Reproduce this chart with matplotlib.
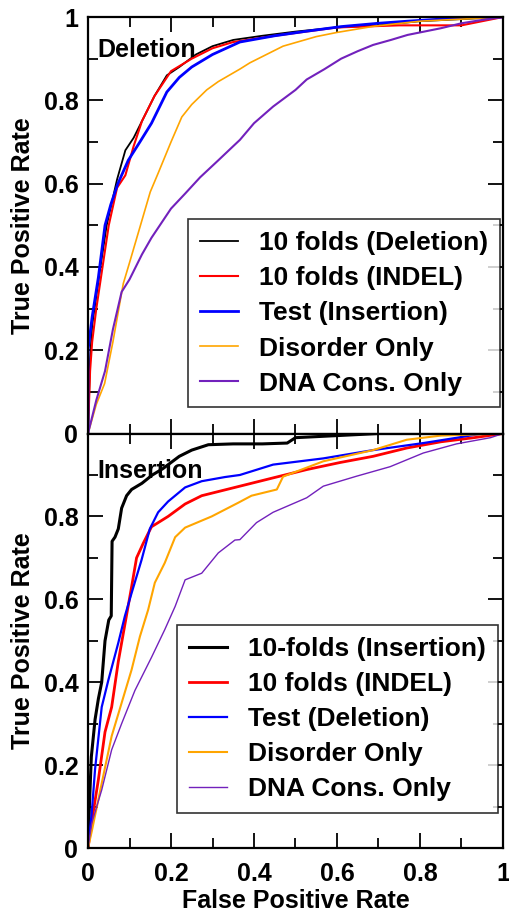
import numpy as np
import matplotlib.pyplot as plt
from matplotlib.ticker import MultipleLocator

plt.rcParams['font.family'] = ['Liberation Sans', 'DejaVu Sans']
plt.rcParams['font.weight'] = 'bold'

# ROC curves, deletion predictor (upper panel)
del_10f_x = [0, 0.005, 0.01, 0.02, 0.03, 0.045, 0.07, 0.09, 0.11, 0.13, 0.16, 0.19, 0.22, 0.26, 0.3, 0.35, 0.42, 0.5, 0.6, 0.7, 0.8, 0.9, 1.0]
del_10f_y = [0, 0.18, 0.26, 0.33, 0.40, 0.50, 0.61, 0.68, 0.71, 0.75, 0.81, 0.86, 0.88, 0.91, 0.93, 0.945, 0.955, 0.965, 0.975, 0.98, 0.99, 0.995, 1.0]
del_indel_x = [0, 0.005, 0.01, 0.02, 0.035, 0.05, 0.07, 0.09, 0.11, 0.13, 0.16, 0.2, 0.25, 0.3, 0.35, 0.45, 0.6, 0.75, 0.9, 1.0]
del_indel_y = [0, 0.15, 0.22, 0.30, 0.40, 0.50, 0.59, 0.62, 0.69, 0.75, 0.81, 0.87, 0.90, 0.925, 0.94, 0.955, 0.975, 0.98, 0.98, 1.0]
del_test_x = [0, 0, 0.01, 0.025, 0.041, 0.055, 0.072, 0.097, 0.125, 0.153, 0.19, 0.22, 0.25, 0.3, 0.366, 0.45, 0.52, 0.61, 0.7, 0.77, 0.85, 0.92, 1.0]
del_test_y = [0, 0.20, 0.28, 0.375, 0.50, 0.55, 0.60, 0.656, 0.70, 0.745, 0.82, 0.855, 0.88, 0.91, 0.94, 0.955, 0.965, 0.977, 0.985, 0.99, 0.995, 1.0, 1.0]
del_dis_x = [0, 0.02, 0.04, 0.06, 0.085, 0.1, 0.125, 0.15, 0.169, 0.2, 0.226, 0.25, 0.286, 0.314, 0.366, 0.39, 0.47, 0.55, 0.6, 0.69, 0.8, 0.9, 1.0]
del_dis_y = [0, 0.07, 0.12, 0.22, 0.36, 0.41, 0.495, 0.58, 0.625, 0.70, 0.76, 0.79, 0.825, 0.845, 0.875, 0.89, 0.93, 0.953, 0.963, 0.978, 0.99, 0.995, 1.0]
del_dna_x = [0, 0.02, 0.041, 0.06, 0.081, 0.1, 0.13, 0.153, 0.2, 0.234, 0.27, 0.314, 0.35, 0.366, 0.4, 0.446, 0.5, 0.527, 0.57, 0.61, 0.65, 0.687, 0.73, 0.77, 0.81, 0.85, 0.9, 0.95, 1.0]
del_dna_y = [0, 0.08, 0.15, 0.25, 0.34, 0.37, 0.43, 0.47, 0.54, 0.576, 0.615, 0.656, 0.69, 0.705, 0.745, 0.785, 0.825, 0.85, 0.875, 0.90, 0.918, 0.933, 0.945, 0.957, 0.965, 0.973, 0.985, 0.993, 1.0]

# ROC curves, insertion predictor (lower panel)
ins_10f_x = [0, 0.004, 0.008, 0.017, 0.025, 0.033, 0.041, 0.05, 0.056, 0.058, 0.065, 0.073, 0.081, 0.093, 0.105, 0.13, 0.155, 0.18, 0.2, 0.22, 0.25, 0.29, 0.35, 0.42, 0.48, 0.5, 0.6, 0.7, 1.0]
ins_10f_y = [0, 0.12, 0.22, 0.31, 0.36, 0.40, 0.50, 0.55, 0.56, 0.74, 0.75, 0.77, 0.82, 0.85, 0.865, 0.88, 0.90, 0.915, 0.93, 0.945, 0.96, 0.973, 0.975, 0.975, 0.977, 0.99, 0.995, 1.0, 1.0]
ins_indel_x = [0, 0.01, 0.025, 0.041, 0.057, 0.073, 0.089, 0.105, 0.117, 0.133, 0.153, 0.193, 0.234, 0.274, 0.354, 0.366, 0.446, 0.527, 0.607, 0.687, 0.768, 0.85, 0.93, 1.0]
ins_indel_y = [0, 0.07, 0.165, 0.28, 0.34, 0.45, 0.54, 0.63, 0.70, 0.735, 0.775, 0.80, 0.83, 0.85, 0.87, 0.873, 0.893, 0.913, 0.93, 0.945, 0.965, 0.98, 0.99, 1.0]
ins_test_x = [0, 0.009, 0.017, 0.033, 0.049, 0.073, 0.089, 0.105, 0.129, 0.149, 0.169, 0.193, 0.234, 0.274, 0.33, 0.366, 0.446, 0.567, 0.687, 0.808, 0.89, 0.95, 1.0]
ins_test_y = [0, 0.085, 0.19, 0.34, 0.405, 0.495, 0.56, 0.615, 0.695, 0.77, 0.81, 0.836, 0.87, 0.885, 0.895, 0.90, 0.925, 0.94, 0.96, 0.977, 0.99, 1.0, 1.0]
ins_dis_x = [0, 0.009, 0.033, 0.057, 0.081, 0.105, 0.125, 0.145, 0.161, 0.185, 0.21, 0.234, 0.298, 0.362, 0.394, 0.455, 0.47, 0.567, 0.687, 0.768, 0.85, 1.0]
ins_dis_y = [0, 0.04, 0.156, 0.27, 0.35, 0.43, 0.51, 0.575, 0.64, 0.688, 0.75, 0.773, 0.80, 0.833, 0.85, 0.865, 0.896, 0.933, 0.96, 0.985, 0.995, 1.0]
ins_dna_x = [0, 0.009, 0.033, 0.057, 0.081, 0.113, 0.153, 0.185, 0.21, 0.234, 0.274, 0.314, 0.354, 0.366, 0.406, 0.446, 0.527, 0.567, 0.647, 0.728, 0.808, 0.888, 0.97, 1.0]
ins_dna_y = [0, 0.06, 0.14, 0.237, 0.30, 0.38, 0.46, 0.527, 0.583, 0.647, 0.663, 0.712, 0.743, 0.744, 0.785, 0.81, 0.845, 0.873, 0.897, 0.92, 0.953, 0.975, 0.99, 1.0]

top_labels = ['10 folds (Deletion)', '10 folds (INDEL)', 'Test (Insertion)', 'Disorder Only', 'DNA Cons. Only']
bottom_labels = ['10-folds (Insertion)', '10 folds (INDEL)', 'Test (Deletion)', 'Disorder Only', 'DNA Cons. Only']
colors = ['#000000', '#ff0000', '#0000ff', '#ffa500', '#7221bc']
tick_vals = [0, 0.2, 0.4, 0.6, 0.8, 1]
tick_text = ['0', '0.2', '0.4', '0.6', '0.8', '1']

fig = plt.figure(figsize=(5.09, 9.15), dpi=100)
ax1 = fig.add_axes([0.1729, 0.5262, 0.8153, 0.4552])
ax2 = fig.add_axes([0.1729, 0.0732, 0.8153, 0.4530])


def style(ax):
    ax.set_xlim(0, 1)
    ax.set_ylim(0, 1)
    ax.xaxis.set_minor_locator(MultipleLocator(0.1))
    ax.yaxis.set_minor_locator(MultipleLocator(0.1))
    ax.tick_params(which='both', direction='in', top=True, right=True, width=1.3)
    ax.tick_params(which='major', length=11, labelsize=18, pad=7)
    ax.tick_params(axis='x', which='major', pad=10)
    ax.tick_params(which='minor', length=7)
    for s in ax.spines.values():
        s.set_linewidth(1.6)
    ax.set_ylabel('True Positive Rate', fontsize=18, fontweight='bold', labelpad=6)


def add_legend(ax, anchor):
    leg = ax.legend(loc='lower right', bbox_to_anchor=anchor, borderaxespad=0,
                    prop={'size': 19, 'weight': 'bold'}, frameon=True, fancybox=False,
                    edgecolor='black', handlelength=1.45, handletextpad=0.8,
                    labelspacing=0.42, borderpad=0.45)
    leg.get_frame().set_linewidth(1.2)
    return leg


# upper panel
top_curves = [(del_10f_x, del_10f_y), (del_indel_x, del_indel_y), (del_test_x, del_test_y),
              (del_dis_x, del_dis_y), (del_dna_x, del_dna_y)]
top_lw = [1.3, 1.5, 2.0, 1.2, 1.5]
for (x, y), c, lw, lab in zip(top_curves, colors, top_lw, top_labels):
    ax1.plot(x, y, color=c, lw=lw, label=lab)
style(ax1)
ax1.set_xticks(tick_vals)
ax1.set_xticklabels([])
ax1.set_yticks(tick_vals)
ax1.set_yticklabels(tick_text)
ax1.text(0.022, 0.92, 'Deletion', fontsize=18, fontweight='bold', transform=ax1.transAxes, va='center')
add_legend(ax1, (0.993, 0.0625))

# lower panel
bottom_curves = [(ins_10f_x, ins_10f_y), (ins_indel_x, ins_indel_y), (ins_test_x, ins_test_y),
                 (ins_dis_x, ins_dis_y), (ins_dna_x, ins_dna_y)]
bottom_lw = [2.2, 2.0, 1.6, 1.5, 1.0]
for (x, y), c, lw, lab in zip(bottom_curves, colors, bottom_lw, bottom_labels):
    ax2.plot(x, y, color=c, lw=lw, label=lab)
style(ax2)
ax2.set_xticks(tick_vals)
ax2.set_xticklabels(tick_text)
ax2.set_yticks(tick_vals[:-1])
ax2.set_yticklabels(tick_text[:-1])
ax2.set_xlabel('False Positive Rate', fontsize=18, fontweight='bold', labelpad=2)
ax2.text(0.022, 0.91, 'Insertion', fontsize=18, fontweight='bold', transform=ax2.transAxes, va='center')
add_legend(ax2, (0.988, 0.0845))

fig.savefig('out.png', dpi=100)
